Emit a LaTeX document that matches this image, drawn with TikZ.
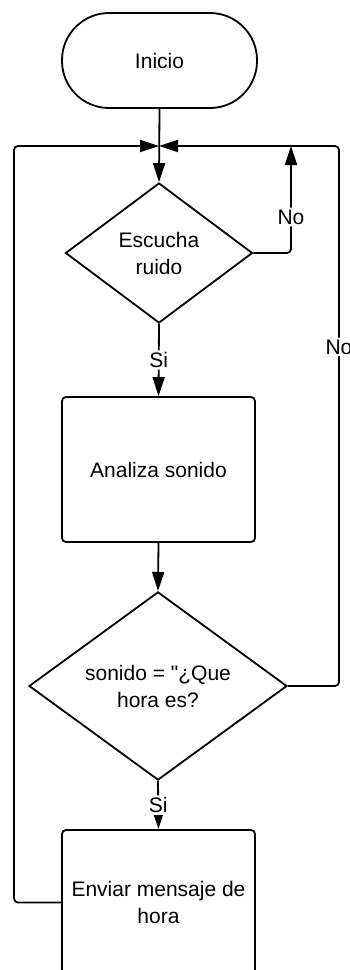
\documentclass[tikz,border=0pt]{standalone}
\usepackage{fontspec}
\setmainfont{Liberation Sans}[Ligatures=TeXOff]
\usetikzlibrary{shapes.geometric,arrows.meta}
\begin{document}
\begin{tikzpicture}[x=1pt,y=-1pt,
  line width=1.8pt,
  every node/.style={font=\fontsize{21}{27}\selectfont},
  term/.style={draw, rectangle, rounded corners=47pt, minimum width=195pt, minimum height=95pt, inner sep=0pt},
  proc/.style={draw, rectangle, rounded corners=4pt, minimum width=193pt, minimum height=145pt, inner sep=0pt, align=center},
  dec/.style={draw, diamond, inner sep=0pt, align=center},
  flow/.style={-{Triangle[length=19pt,width=12pt]}, rounded corners=4pt},
  lbl/.style={fill=white, inner sep=2pt}
]
\useasboundingbox (0,0) rectangle (350,970);
\clip (0,0) rectangle (350,970);
\node[term] (start) at (159.5,60.5) {Inicio};
\coordinate (j) at (159,146);
\coordinate (nr) at (291,146);
\coordinate (r) at (339,146);
\coordinate (l) at (14,146);
\node[dec, minimum width=187pt, minimum height=140pt] (d1) at (159,253) {Escucha\\ruido};
\node[proc] (p1) at (158.5,469.5) {Analiza sonido};
\node[dec, minimum width=258pt, minimum height=165pt] (d2) at (158,686) {sonido = "¿Que\\hora es?};
\node[proc] (p2) at (158.5,902.5) {Enviar mensaje de\\hora};

\draw[flow] (start.south) -- (d1.north);
\draw[flow] (d1.south) -- node[lbl]{Si} (p1.north);
\draw[flow] (p1.south) -- (d2.north);
\draw[flow] (d2.south) -- node[lbl]{Si} (p2.north);
\draw[flow] (d1.east) -| node[lbl, pos=0.668]{No} (nr);
\draw[flow] (d2.east) -| node[lbl, pos=0.814]{No} (r) -- (j);
\draw[flow] (p2.west) -| (l) -- (j);
\end{tikzpicture}
\end{document}
